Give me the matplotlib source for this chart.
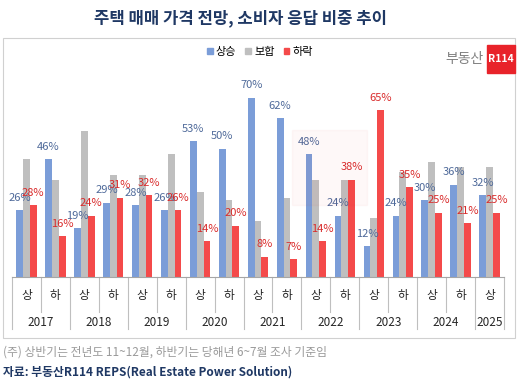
import matplotlib
matplotlib.use("Agg")
import numpy as np
import matplotlib.pyplot as plt
from matplotlib.patches import Patch, Rectangle
from matplotlib import transforms

plt.rcParams['font.family'] = ['Noto Sans CJK KR', 'DejaVu Sans']

# data
halves = ["상", "하"] * 8 + ["상"]
years = ["2017", "2018", "2019", "2020", "2021", "2022", "2023", "2024", "2025"]
up = [26, 46, 19, 29, 28, 26, 53, 50, 70, 62, 48, 24, 12, 24, 30, 36, 32]
down = [28, 16, 24, 31, 32, 26, 14, 20, 8, 7, 14, 38, 65, 35, 25, 21, 25]
flat = [46, 38, 57, 40, 40, 48, 33, 30, 22, 31, 38, 38, 23, 41, 45, 43, 43]

c_up = "#7B9DD8"
c_flat = "#BFBFBF"
c_down = "#F44A4A"
navy = "#1F3864"

W, H = 529, 384
fig = plt.figure(figsize=(W / 100, H / 100), dpi=100)

def fx(px):
    return px / W

def fy(py):
    return 1 - py / H

# chart box
fig.patches.append(Rectangle((fx(3), fy(338)), fx(512), 300 / H, transform=fig.transFigure,
                             fill=False, edgecolor="#D0D0D0", lw=0.8))

# faint watermark block behind the bars
fig.patches.append(Rectangle((fx(292), fy(205)), fx(75), 75 / H, transform=fig.transFigure,
                             color="#E8232A", alpha=0.03, zorder=0))

ax = fig.add_axes([fx(12), fy(277), fx(492), 217 / H])
x = np.arange(len(up))
bw = 0.235
ax.bar(x - bw, up, bw, color=c_up)
ax.bar(x, flat, bw, color=c_flat)
ax.bar(x + bw, down, bw, color=c_down)
ax.set_xlim(-0.5, len(up) - 0.5)
ax.set_ylim(0, 84.7)
for s in ["top", "right", "left"]:
    ax.spines[s].set_visible(False)
ax.spines["bottom"].set_color("#A6A6A6")
ax.set_yticks([])
ax.set_xticks([])
ax.patch.set_alpha(0)

# data labels
for i in range(len(up)):
    ax.annotate(f"{up[i]}%", (x[i] - bw, up[i]), xytext=(0, 9), textcoords="offset points",
                ha="center", va="center", fontsize=8, color="#4F6A9A")
    ax.annotate(f"{down[i]}%", (x[i] + bw, down[i]), xytext=(0, 9), textcoords="offset points",
                ha="center", va="center", fontsize=8, color="#D92B2B")

# two-level x axis
tr = transforms.blended_transform_factory(ax.transData, fig.transFigure)
for i, h in enumerate(halves):
    ax.text(x[i], fy(296), h, transform=tr, ha="center", va="center", fontsize=8.5, color="#262626")
for j, yr in enumerate(years):
    cx = 2 * j + 0.5 if j < 8 else 16
    ax.text(cx, fy(322), yr, transform=tr, ha="center", va="center", fontsize=8.5, color="#262626")
for b in np.arange(-0.5, len(up), 1.0):
    tall = (b + 0.5) % 2 == 0 or b == len(up) - 0.5
    y_end = fy(329) if tall else fy(312)
    ax.plot([b, b], [fy(277), y_end], transform=tr, color="#BFBFBF", lw=0.8, clip_on=False)

# legend
handles = [Patch(color=c_up, label="상승"), Patch(color=c_flat, label="보합"), Patch(color=c_down, label="하락")]
fig.legend(handles=handles, loc="center", bbox_to_anchor=(fx(260), fy(52)), ncol=3, frameon=False,
           fontsize=8, handlelength=0.5, handleheight=0.5, handletextpad=0.3, columnspacing=0.8)

# title
fig.text(fx(240), fy(18), "주택 매매 가격 전망, 소비자 응답 비중 추이", ha="center", va="center",
         fontsize=12, fontweight="bold", color=navy)

# logo
fig.text(fx(484), fy(59), "부동산", ha="right", va="center", fontsize=10, fontweight="medium", color="#7F7F7F")
fig.patches.append(Rectangle((fx(487), fy(73)), fx(28), 28 / H, transform=fig.transFigure,
                             color="#E8232A"))
fig.text(fx(501), fy(59.5), "R114", ha="center", va="center", fontsize=7.5, fontweight="bold", color="white")

# footer
fig.text(fx(3), fy(352), "(주) 상반기는 전년도 11~12월, 하반기는 당해년 6~7월 조사 기준임", ha="left", va="center",
         fontsize=8.5, color="#9A9A9A")
fig.text(fx(3), fy(372), "자료: 부동산R114 REPS(Real Estate Power Solution)", ha="left", va="center",
         fontsize=8.5, fontweight="bold", color=navy)

fig.savefig("out.png", dpi=100)
